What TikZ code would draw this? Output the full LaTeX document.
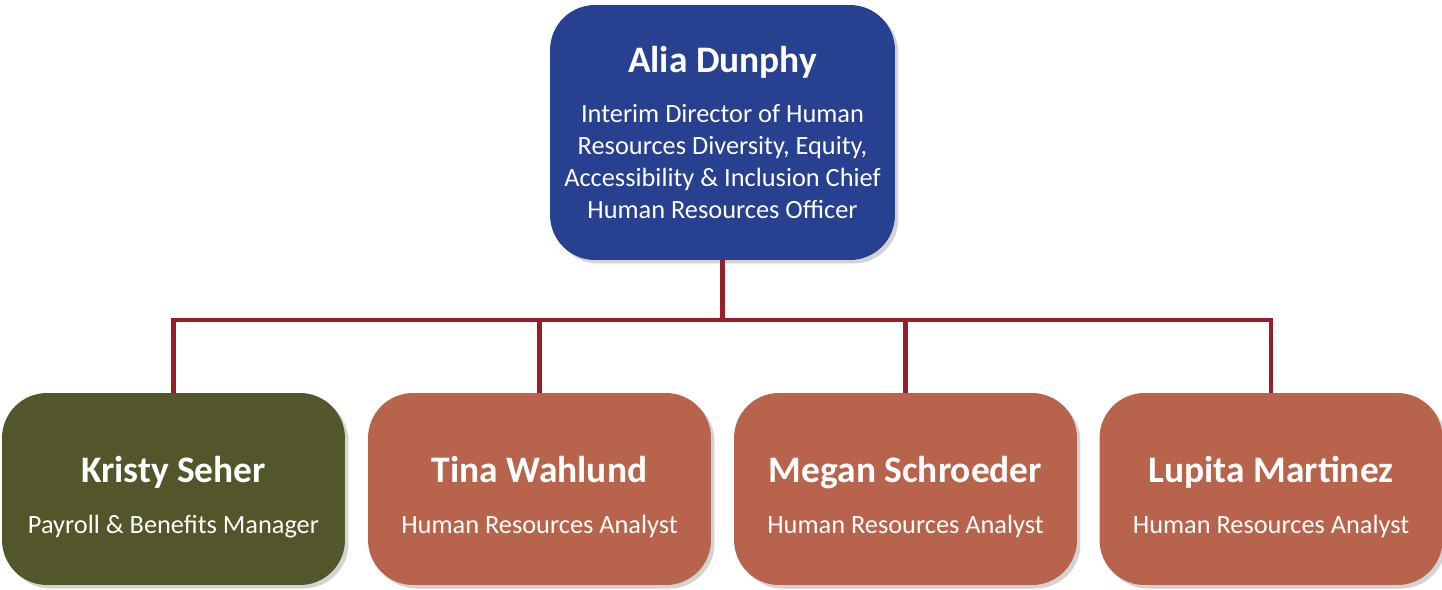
\documentclass[tikz,border=0pt]{standalone}
\usepackage{fontspec}
\setmainfont{Carlito}
\usetikzlibrary{positioning,shadows}
\definecolor{headblue}{HTML}{27408F}
\definecolor{olivebox}{HTML}{53562A}
\definecolor{rustbox}{HTML}{B8644C}
\definecolor{linkred}{HTML}{961E28}
\begin{document}
\begin{tikzpicture}[
        x=0.02cm, y=-0.02cm,
        card/.style={rounded corners=0.9cm, text=white, align=center,
            inner sep=0pt, minimum width=6.86cm,
            font=\fontsize{15}{18.2}\selectfont,
            drop shadow={opacity=0.35, shadow xshift=2pt, shadow yshift=-2pt}},
        head/.style={card, fill=headblue, minimum height=5.1cm},
        staff/.style={card, fill=rustbox, minimum height=3.84cm},
        link/.style={draw=linkred, line width=2.3pt}
    ]
    \useasboundingbox (0,0) rectangle (1442,589);
    \newcommand{\who}[1]{{\fontsize{21.3}{22}\selectfont\bfseries #1}}

    % top of the chart
    \node[head, minimum width=6.9cm] (alia) at (722.5,132.5)
        {\who{Alia Dunphy}\\[10.5pt]
         Interim Director of Human\\
         Resources Diversity, Equity,\\
         Accessibility \& Inclusion Chief\\
         Human Resources Officer};

    % second row
    \node[staff, fill=olivebox] (kristy) at (173.5,489)
        {\rule{0pt}{24pt}\who{Kristy Seher}\\[10.5pt]Payroll \& Benefits Manager};
    \node[staff] (tina) at (539.5,489)
        {\rule{0pt}{24pt}\who{Tina Wahlund}\\[10.5pt]Human Resources Analyst};
    \node[staff] (megan) at (905.5,489)
        {\rule{0pt}{24pt}\who{Megan Schroeder}\\[10.5pt]Human Resources Analyst};
    \node[staff] (lupita) at (1271,489)
        {\rule{0pt}{24pt}\who{Lupita Martinez}\\[10.5pt]Human Resources Analyst};

    % connectors
    \draw[link] (alia.south) -- ++(0,60) coordinate (bus);
    \foreach \n in {kristy,tina,megan,lupita}
        \draw[link] (bus) -| (\n.north);
\end{tikzpicture}
\end{document}
